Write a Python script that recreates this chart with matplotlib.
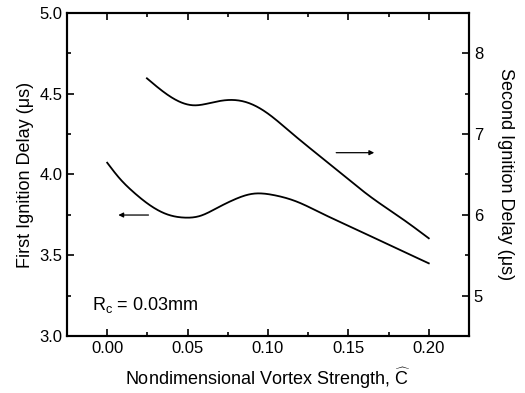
import numpy as np
import matplotlib
matplotlib.use("Agg")
import matplotlib.pyplot as plt
from matplotlib.ticker import MultipleLocator

plt.rcParams['font.family'] = ['Liberation Sans', 'DejaVu Sans']
plt.rcParams['mathtext.fontset'] = 'custom'
plt.rcParams['mathtext.rm'] = 'Liberation Sans'
plt.rcParams['mathtext.it'] = 'Liberation Sans'

# первая задержка воспламенения (левая ось)
c1 = [0.000, 0.0077, 0.0160, 0.0264, 0.0368, 0.0482, 0.0576, 0.0680, 0.0784,
      0.0908, 0.1033, 0.1179, 0.1325, 0.1533, 0.1741, 0.2000]
t1 = [4.073, 3.976, 3.894, 3.811, 3.755, 3.733, 3.743, 3.791, 3.842,
      3.881, 3.873, 3.832, 3.764, 3.667, 3.570, 3.450]

# вторая задержка воспламенения (правая ось)
c2 = [0.0247, 0.0409, 0.0534, 0.0659, 0.0763, 0.0867, 0.0992, 0.1137,
      0.1429, 0.1637, 0.1845, 0.2000]
t2 = [7.691, 7.444, 7.357, 7.394, 7.423, 7.394, 7.265, 7.030,
      6.556, 6.225, 5.937, 5.710]


def spline(x, y, n=400):
    # натуральный кубический сплайн
    x = np.asarray(x, float); y = np.asarray(y, float)
    m = len(x); h = np.diff(x)
    A = np.zeros((m, m)); r = np.zeros(m)
    A[0, 0] = A[-1, -1] = 1
    for i in range(1, m - 1):
        A[i, i-1] = h[i-1]; A[i, i] = 2*(h[i-1] + h[i]); A[i, i+1] = h[i]
        r[i] = 3*((y[i+1]-y[i])/h[i] - (y[i]-y[i-1])/h[i-1])
    c = np.linalg.solve(A, r)
    b = (y[1:]-y[:-1])/h - h*(2*c[:-1] + c[1:])/3
    d = (c[1:]-c[:-1])/(3*h)
    xs = np.linspace(x[0], x[-1], n)
    k = np.clip(np.searchsorted(x, xs) - 1, 0, m - 2)
    t = xs - x[k]
    return xs, y[k] + b[k]*t + c[k]*t**2 + d[k]*t**3


fig = plt.figure(figsize=(5.25, 3.93), dpi=100)
ax = fig.add_axes([0.1276, 0.145, 0.8933-0.1276, 0.967-0.145])
ax2 = ax.twinx()

x1, y1 = spline(c1, t1)
x2, y2 = spline(c2, t2)
ax.plot(x1, y1, color='black', lw=1.3)
ax2.plot(x2, y2, color='black', lw=1.3)

ax.set_xlim(-0.025, 0.225)
ax.set_ylim(3.0, 5.0)
ax2.set_ylim(4.5, 8.5)

ax.xaxis.set_major_locator(MultipleLocator(0.05))
ax.xaxis.set_minor_locator(MultipleLocator(0.025))
ax.yaxis.set_major_locator(MultipleLocator(0.5))
ax.yaxis.set_minor_locator(MultipleLocator(0.25))
ax2.yaxis.set_major_locator(MultipleLocator(1))
ax2.yaxis.set_minor_locator(MultipleLocator(0.5))
ax.xaxis.set_major_formatter(plt.FuncFormatter(lambda v, p: f"{v:.2f}"))
ax.yaxis.set_major_formatter(plt.FuncFormatter(lambda v, p: f"{v:.1f}"))

ax.tick_params(axis='x', which='both', direction='in', top=True, labelsize=12)
ax.tick_params(axis='y', which='both', direction='in', labelsize=12)
ax2.tick_params(axis='y', which='both', direction='in', labelsize=12)
for a in (ax, ax2):
    a.tick_params(which='major', length=5, width=1.2)
    a.tick_params(which='minor', length=3, width=1.2)
    for s in a.spines.values():
        s.set_linewidth(1.5)

ax.set_xlabel(r"Nondimensional Vortex Strength, $\widehat{\mathrm{C}}$", fontsize=13, labelpad=7)
ax.set_ylabel("First Ignition Delay (\u03bcs)", fontsize=13)
ax2.set_ylabel("Second Ignition Delay (\u03bcs)", fontsize=13, rotation=-90, labelpad=22)

ax.annotate("", xy=(0.0052, 3.749), xytext=(0.0274, 3.749),
            arrowprops=dict(arrowstyle='-|>', color='black', lw=0.9, mutation_scale=7))
ax2.annotate("", xy=(0.1678, 6.77), xytext=(0.1407, 6.77),
             arrowprops=dict(arrowstyle='-|>', color='black', lw=0.9, mutation_scale=7))

ax.text(-0.0095, 3.19, r"R$_\mathregular{c}$ = 0.03mm", fontsize=13, va='center')

fig.savefig("out.png", dpi=100)
